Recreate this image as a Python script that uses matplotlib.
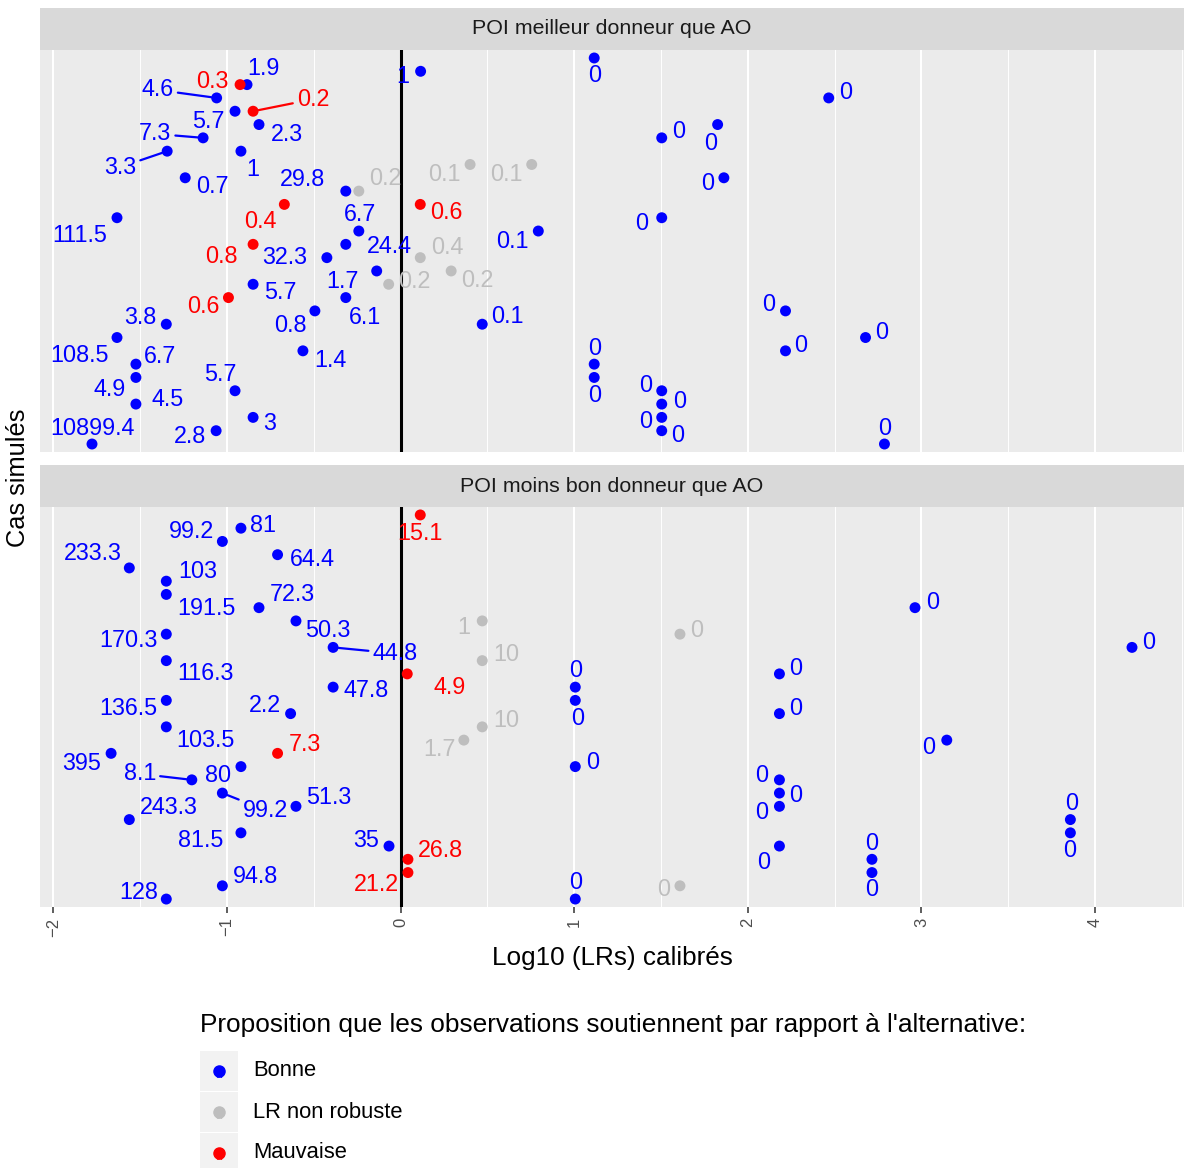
import numpy as np
import matplotlib.pyplot as plt
from matplotlib.patches import Rectangle
from matplotlib.lines import Line2D

plt.rcParams['font.family'] = ['Liberation Sans', 'DejaVu Sans']

# catégories de la légende
categories = ["Bonne", "LR non robuste", "Mauvaise"]
codes = {"B": "Bonne", "G": "LR non robuste", "R": "Mauvaise"}
cat_colors = {"Bonne": "#0000FF", "LR non robuste": "#BEBEBE", "Mauvaise": "#FF0000"}

facet_titles = ["POI meilleur donneur que AO", "POI moins bon donneur que AO"]

# --- panneau 1 : POI meilleur donneur que AO ---
x1 = [1.115, 0.115, -0.925, -0.885, -1.060, 2.466, -0.954, -0.850, -0.816, 1.826,
      -1.138, 1.504, -1.345, -0.920, 0.400, 0.755, -1.241, 1.862, -0.316, -0.241,
      -0.670, 0.113, -1.634, 1.504, -0.241, 0.793, -0.316, -0.850, -0.425, 0.113,
      -0.138, 0.291, -0.850, -0.069, -0.992, -0.316, -0.494, 2.217, -1.350, 0.470,
      -1.634, 2.678, -0.563, 2.217, -1.525, 1.115, -1.525, 1.115, -0.954, 1.504,
      -1.525, 1.504, -0.850, 1.504, -1.063, 1.504, -1.778, 2.787]
case1 = [1, 2, 3, 3, 4, 4, 5, 5, 6, 6,
         7, 7, 8, 8, 9, 9, 10, 10, 11, 11,
         12, 12, 13, 13, 14, 14, 15, 15, 16, 16,
         17, 17, 18, 18, 19, 19, 20, 20, 21, 21,
         22, 22, 23, 23, 24, 24, 25, 25, 26, 26,
         27, 27, 28, 28, 29, 29, 30, 30]
cat1 = list("BBRBBBBRBB" "BBBBGGBBBG" "RRBBBBBRBG" "BGBGRBBBBB" "BBBBBBBBBB" "BBBBBBBB")
lab1 = ["0", "1", "0.3", "1.9", "4.6", "0", "5.7", "0.2", "2.3", "0",
        "7.3", "0", "3.3", "1", "0.1", "0.1", "0.7", "0", "29.8", "0.2",
        "0.4", "0.6", "111.5", "0", "6.7", "0.1", "24.4", "0.8", "32.3", "0.4",
        "1.7", "0.2", "5.7", "0.2", "0.6", "6.1", "0.8", "0", "3.8", "0.1",
        "108.5", "0", "1.4", "0", "6.7", "0", "4.9", "0", "5.7", "0",
        "4.5", "0", "3", "0", "2.8", "0", "10899.4", "0"]

# --- panneau 2 : POI moins bon donneur que AO ---
x2 = [0.113, -0.920, -1.027, -0.709, -1.563, -1.350, -1.350, -0.816, -0.603, -1.350,
      -0.389, -1.350, 0.038, -0.389, -1.350, -0.634, -1.350, -0.709, -1.668, -0.920,
      -1.203, -1.027, -0.603, -1.563, -0.920, -0.067, 0.042, 0.042, -1.027, -1.350,
      0.470, 1.609, 0.470, 2.182, 1.006, 1.006, 2.182, 0.470, 0.364, 1.006,
      2.182, 2.182, 2.182, 2.182, 1.609, 1.006, 2.963, 4.213, 3.146, 3.858,
      3.858, 2.715, 2.715]
case2 = [1, 2, 3, 4, 5, 6, 7, 8, 9, 10,
         11, 12, 13, 14, 15, 16, 17, 19, 19, 20,
         21, 22, 23, 24, 25, 26, 27, 28, 29, 30,
         9, 10, 12, 13, 14, 15, 16, 17, 18, 20,
         21, 22, 23, 26, 29, 30, 8, 11, 18, 24,
         25, 27, 28]
cat2 = list("RBBBBBBBBB" "BBRBBBBRBB" "BBBBBBRRBB" "GGGBBBBGGB" "BBBBGBBBBB" "BBB")
lab2 = ["15.1", "81", "99.2", "64.4", "233.3", "103", "191.5", "72.3", "50.3", "170.3",
        "44.8", "116.3", "4.9", "47.8", "136.5", "2.2", "103.5", "7.3", "395", "80",
        "8.1", "99.2", "51.3", "243.3", "81.5", "35", "26.8", "21.2", "94.8", "128",
        "1", "0", "10", "0", "0", "0", "0", "10", "1.7", "0",
        "0", "0", "0", "0", "0", "0", "0", "0", "0", "0",
        "0", "0", "0"]

# placement des étiquettes (décalage en pixels, y vers le bas) et traits de rappel
off1 = [(0, 18), (-18, 5), (-28, -3), (16, -16), (-59, -8), (17, -5), (-27, 10), (60, -12), (28, 10), (-7, 19),
        (-48, -4), (17, -6), (-47, 16), (12, 18), (-26, 10), (-25, 10), (27, 9), (-16, 6), (-43, -12), (26, -13),
        (-24, 17), (26, 8), (-37, 18), (-20, 6), (1, -17), (-26, 10), (44, 2), (-32, 12), (-42, 0), (27, -10),
        (-34, 11), (26, 10), (27, 8), (26, -3), (-25, 9), (19, 20), (-25, 15), (-17, -6), (-26, -7), (25, -8),
        (-37, 18), (16, -5), (27, 10), (15, -5), (24, -8), (0, -16), (-26, 12), (0, 18), (-15, -16), (-16, -5),
        (32, -5), (18, -3), (17, 6), (-16, 4), (-26, 6), (16, 5), (0, -16), (0, -16)]
seg1 = {4, 7, 10, 12}
off2 = [(0, 19), (22, -3), (-31, -10), (35, 5), (-37, -14), (31, -10), (40, 14), (33, -13), (32, 10), (-38, 6),
        (62, 6), (39, 13), (42, 14), (33, 3), (-38, 8), (-26, -8), (39, 14), (27, -9), (-29, 10), (-23, 9),
        (-52, -6), (43, 17), (33, -9), (39, -12), (-40, 8), (-23, -6), (32, -9), (-32, 12), (33, -9), (-28, -7),
        (-18, 7), (17, -4), (24, -6), (16, -5), (0, -17), (2, 18), (16, -5), (24, -6), (-24, 9), (17, -4),
        (-18, -4), (16, 2), (-18, 6), (-16, 16), (-16, 4), (0, -17), (18, -5), (17, -5), (-18, 7), (1, -16),
        (-1, 18), (0, -16), (0, 17)]
seg2 = {10, 20, 21}

panels = [(x1, case1, cat1, lab1, off1, seg1), (x2, case2, cat2, lab2, off2, seg2)]

W, H = 1184, 1168
fig = plt.figure(figsize=(W / 100, H / 100), dpi=100)


def box(l, t, r, b):
    return [l / W, 1 - b / H, (r - l) / W, (b - t) / H]


all_x = np.array(x1 + x2)
pad = 0.05 * (all_x.max() - all_x.min())
xlim = (all_x.min() - pad, all_x.max() + pad)

geom = [((8, 50), (50, 452)), ((465, 507), (507, 907))]

for i, (xs, cs, cats, labs, offs, segs) in enumerate(panels):
    (st, sb), (pt, pb) = geom[i]
    sax = fig.add_axes(box(40, st, 1184, sb))
    sax.set_facecolor('#D9D9D9')
    sax.set_xticks([]); sax.set_yticks([])
    for s in sax.spines.values():
        s.set_visible(False)
    sax.text(0.5, 0.5, facet_titles[i], ha='center', va='center', fontsize=15.4,
             color='#1A1A1A', transform=sax.transAxes)

    ax = fig.add_axes(box(40, pt, 1184, pb))
    ax.set_facecolor('#EBEBEB')
    ax.set_xlim(*xlim)
    ax.set_ylim(30.6, 0.4)
    ax.set_xticks(range(-2, 5))
    ax.set_xticks(np.arange(-1.5, 4.6, 1), minor=True)
    ax.grid(which='major', axis='x', color='white', lw=1.5)
    ax.grid(which='minor', axis='x', color='white', lw=0.7)
    ax.set_axisbelow(True)
    for s in ax.spines.values():
        s.set_visible(False)
    ax.tick_params(axis='y', left=False, labelleft=False)
    ax.tick_params(axis='x', which='minor', length=0)
    if i == 0:
        ax.tick_params(axis='x', bottom=False, labelbottom=False)
    else:
        ax.tick_params(axis='x', which='major', length=4.5, width=1.1, color='#333333',
                       labelsize=12, labelcolor='#4D4D4D', labelrotation=90, pad=3)
    ax.axvline(0, color='black', lw=2.2, zorder=1.5)

    xs = np.array(xs); cs = np.array(cs)
    names = np.array([codes[c] for c in cats])
    for cat in categories:
        m = names == cat
        ax.scatter(xs[m], cs[m], s=62, color=cat_colors[cat], edgecolors='none', zorder=3)

    for j, (xv, cv, nm, lb) in enumerate(zip(xs, cs, names, labs)):
        dx, dy = offs[j]
        col = cat_colors[nm]
        ap = None
        if j in segs:
            ap = dict(arrowstyle='-', color=col, lw=1.6, shrinkA=1, shrinkB=4)
        ax.annotate(lb, (xv, cv), xytext=(dx, -dy), textcoords='offset pixels',
                    ha='center', va='center', fontsize=16.8, color=col,
                    arrowprops=ap, zorder=4)

fig.text(612 / W, 1 - 958 / H, "Log10 (LRs) calibrés", ha='center', va='center', fontsize=18.8)
fig.text(18 / W, 1 - 478 / H, "Cas simulés", ha='center', va='center', rotation=90, fontsize=18.3)

# légende
fig.text(200 / W, 1 - 1025 / H, "Proposition que les observations soutiennent par rapport à l'alternative:",
         ha='left', va='center', fontsize=18.9)
for k, cat in enumerate(categories):
    yc = 1071 + 41 * k
    fig.add_artist(Rectangle((200 / W, 1 - (yc + 20) / H), 38 / W, 40 / H,
                             transform=fig.transFigure, facecolor='#F2F2F2', edgecolor='none'))
    fig.text(219 / W, 1 - (yc + 4) / H, "a", ha='center', va='center', fontsize=8, color=cat_colors[cat])
    fig.add_artist(Line2D([219 / W], [1 - yc / H], marker='o', markersize=8, linestyle='none',
                          color=cat_colors[cat], transform=fig.transFigure))
    fig.text(253 / W, 1 - yc / H, cat, ha='left', va='center', fontsize=15.8)

fig.savefig('out.png', dpi=100)
